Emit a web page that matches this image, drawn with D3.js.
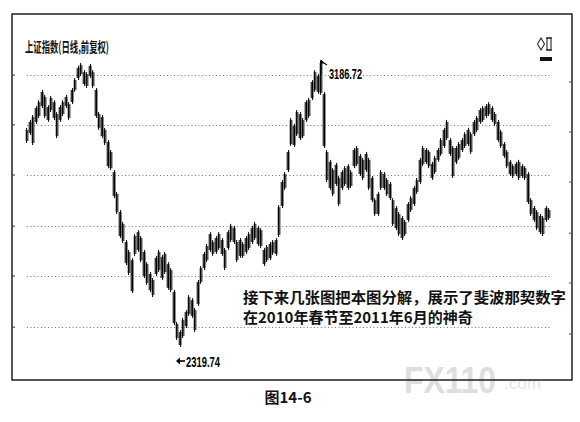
<!DOCTYPE html>
<html><head><meta charset="utf-8">
<script src="https://cdn.jsdelivr.net/npm/d3@7/dist/d3.min.js"></script>
<style>body{margin:0;background:#fff}svg{display:block}</style>
</head><body>
<svg id="c" width="580" height="422"></svg>
<script>
const highs = [2984,3008,3023,3050,3068,3099,3084,3053,3081,3068,3032,3053,3068,3084,3062,3105,3135,3172,3181,3159,3153,3178,3159,3105,3032,3023,2984,2947,2917,2856,2790,2735,2699,2644,2614,2589,2662,2674,2656,2614,2577,2547,2529,2596,2614,2599,2608,2577,2559,2493,2396,2371,2408,2432,2477,2468,2438,2523,2565,2608,2632,2668,2644,2656,2668,2650,2620,2674,2693,2687,2644,2650,2638,2656,2668,2687,2699,2687,2680,2620,2629,2638,2644,2650,2750,2826,2850,2917,3014,2996,3038,3032,3014,3068,3075,3129,3159,3147,3186.72,3093,2917,2887,2862,2878,2838,2856,2868,2874,2856,2923,2929,2905,2893,2911,2893,2838,2771,2790,2856,2850,2832,2820,2771,2747,2729,2717,2705,2759,2777,2808,2832,2893,2929,2923,2917,2881,2899,2923,2953,2984,3008,2953,2929,2929,2941,2953,2971,2984,2971,3008,3020,3044,3050,3056,3062,3050,3032,3008,2978,2941,2917,2887,2874,2881,2887,2874,2868,2850,2771,2747,2735,2723,2717,2747,2741];
const lows = [2938,2962,2932,2996,3014,3044,3014,3002,3032,3008,2953,3002,3020,3044,3008,3056,3093,3129,3141,3111,3105,3135,3105,3014,2978,2953,2932,2862,2856,2771,2723,2650,2635,2568,2538,2483,2596,2608,2577,2529,2508,2486,2471,2535,2547,2523,2541,2493,2486,2386,2341,2319.74,2347,2377,2414,2408,2365,2444,2511,2553,2577,2608,2596,2602,2614,2596,2553,2614,2638,2632,2577,2590,2590,2602,2614,2632,2644,2626,2620,2565,2577,2583,2599,2596,2653,2741,2796,2850,2929,2926,2959,2947,2953,3002,3014,3068,3093,3087,3084,2923,2820,2796,2777,2808,2747,2796,2808,2796,2802,2862,2868,2838,2826,2850,2796,2759,2717,2717,2796,2796,2777,2765,2687,2674,2656,2644,2656,2699,2729,2747,2784,2814,2868,2874,2862,2826,2844,2881,2899,2923,2947,2899,2832,2874,2887,2911,2923,2929,2905,2959,2971,2996,3002,3014,3020,3002,2990,2941,2923,2893,2862,2838,2832,2838,2826,2832,2826,2753,2717,2699,2674,2662,2656,2699,2705];
const gridVals = [3144, 2993, 2841, 2686, 2535, 2380];
const title = "上证指数(日线,前复权)";
const peakLabel = "3186.72";
const lowLabel = "2319.74";
const note1 = "接下来几张图把本图分解，展示了斐波那契数字";
const note2 = "在2010年春节至2011年6月的神奇";
const caption = "图14-6";

const svg = d3.select("#c");
const n = highs.length;
const x = d3.scaleLinear().domain([0, n - 1]).range([27, 549]);
const y = d3.scaleLinear().domain([2319.74, 3186.72]).range([347, 61]);

// watermark
svg.append("text").attr("transform", "translate(404,393) scale(1,1.25)").attr("fill", "#dedede")
  .attr("font-family", "Liberation Sans, sans-serif").attr("font-weight", "bold").attr("font-size", 30)
  .attr("textLength", 92).attr("lengthAdjust", "spacingAndGlyphs").text("FX110");
svg.append("text").attr("x", 504).attr("y", 389).attr("fill", "#e4e4e4")
  .attr("font-family", "Liberation Sans, sans-serif").attr("font-size", 17).text(".com");

// frame
svg.append("rect").attr("x", 12).attr("y", 14).attr("width", 560).attr("height", 366)
  .attr("fill", "none").attr("stroke", "#111").attr("stroke-width", 1.4);

// left/right small ticks
const tickYs = gridVals.map(v => y(v));
svg.append("g").selectAll("line").data(tickYs).join("line")
  .attr("x1", 12).attr("x2", 15).attr("y1", d => d).attr("y2", d => d).attr("stroke", "#333");
svg.append("g").selectAll("line").data(tickYs).join("line")
  .attr("x1", 569).attr("x2", 572).attr("y1", d => d + 7).attr("y2", d => d + 7).attr("stroke", "#555");

// grid
svg.append("g").selectAll("line").data(gridVals).join("line")
  .attr("x1", 27).attr("x2", 552).attr("y1", d => Math.round(y(d)) + 0.5).attr("y2", d => Math.round(y(d)) + 0.5)
  .attr("stroke", "#777").attr("stroke-width", 1).attr("stroke-dasharray", "1,2.5");

// bars
const bars = svg.append("g");
bars.selectAll("rect").data(d3.range(n)).join("rect")
  .attr("x", i => x(i) - 1.4)
  .attr("width", 2.9)
  .attr("y", i => y(highs[i]) + 2)
  .attr("height", i => Math.max(1, y(lows[i]) - y(highs[i]) - 4))
  .attr("fill", (i) => i % 2 ? "#3a3a3a" : "#555");
bars.selectAll("line").data(d3.range(n)).join("line")
  .attr("x1", i => x(i) + (i % 2 ? 0.6 : -0.4)).attr("x2", i => x(i) + (i % 2 ? 0.6 : -0.4))
  .attr("y1", i => y(highs[i])).attr("y2", i => y(lows[i]))
  .attr("stroke", "#000").attr("stroke-width", 1);

// title
svg.append("text").attr("x", 25).attr("y", 52).attr("font-family", "Noto Sans CJK SC")
  .attr("font-weight", "bold").attr("font-size", 14).attr("textLength", 84).attr("lengthAdjust", "spacingAndGlyphs")
  .attr("fill", "#111").text(title);

// top-right icons
const ic = svg.append("g").attr("stroke", "#222").attr("fill", "none").attr("stroke-width", 1.1);
ic.append("path").attr("d", "M541,38 L544.5,44 L541,50 L537.5,44 Z");
ic.append("rect").attr("x", 547).attr("y", 38).attr("width", 4).attr("height", 12);
ic.append("line").attr("x1", 546).attr("x2", 552).attr("y1", 38).attr("y2", 38);
ic.append("line").attr("x1", 546).attr("x2", 552).attr("y1", 50).attr("y2", 50);
svg.append("rect").attr("x", 540).attr("y", 57).attr("width", 12).attr("height", 4).attr("fill", "#111");

// peak annotation
const ip = highs.indexOf(d3.max(highs));
const px = x(ip), py = y(highs[ip]);
svg.append("path").attr("d", `M${px},${py + 14} L${px},${py} L${px + 6},${py + 4}`).attr("fill", "none").attr("stroke", "#000").attr("stroke-width", 1.2);
svg.append("path").attr("d", `M${px},${py - 1} l3,3 l-3,-0.5 z`).attr("fill", "#000").attr("stroke", "#000");
svg.append("text").attr("x", px + 8).attr("y", py + 18).attr("font-family", "Liberation Sans, sans-serif")
  .attr("font-weight", "bold").attr("font-size", 15).attr("textLength", 33).attr("lengthAdjust", "spacingAndGlyphs").text(peakLabel);

// low annotation
const il = lows.indexOf(d3.min(lows));
const lx = x(il) - 3, ly = y(lows[il]) + 14;
svg.append("line").attr("x1", lx).attr("x2", lx + 8).attr("y1", ly).attr("y2", ly).attr("stroke", "#000").attr("stroke-width", 1.6);
svg.append("path").attr("d", `M${lx - 1},${ly} l4,-3.5 l0,7 z`).attr("fill", "#000");
svg.append("text").attr("x", lx + 9).attr("y", ly + 6).attr("font-family", "Liberation Sans, sans-serif")
  .attr("font-weight", "bold").attr("font-size", 15).attr("textLength", 34).attr("lengthAdjust", "spacingAndGlyphs").text(lowLabel);

// note
const nt = svg.append("g").attr("font-family", "Noto Sans CJK SC").attr("font-weight", "bold").attr("font-size", 15).attr("fill", "#111");
nt.append("text").attr("x", 243).attr("y", 303).attr("textLength", 323).attr("lengthAdjust", "spacingAndGlyphs").text(note1);
nt.append("text").attr("x", 243).attr("y", 323).text(note2);

// caption
svg.append("text").attr("x", 288).attr("y", 403).attr("text-anchor", "middle").attr("font-family", "Noto Sans CJK SC")
  .attr("font-weight", "bold").attr("font-size", 15).attr("fill", "#111").text(caption);
</script>
</body></html>
